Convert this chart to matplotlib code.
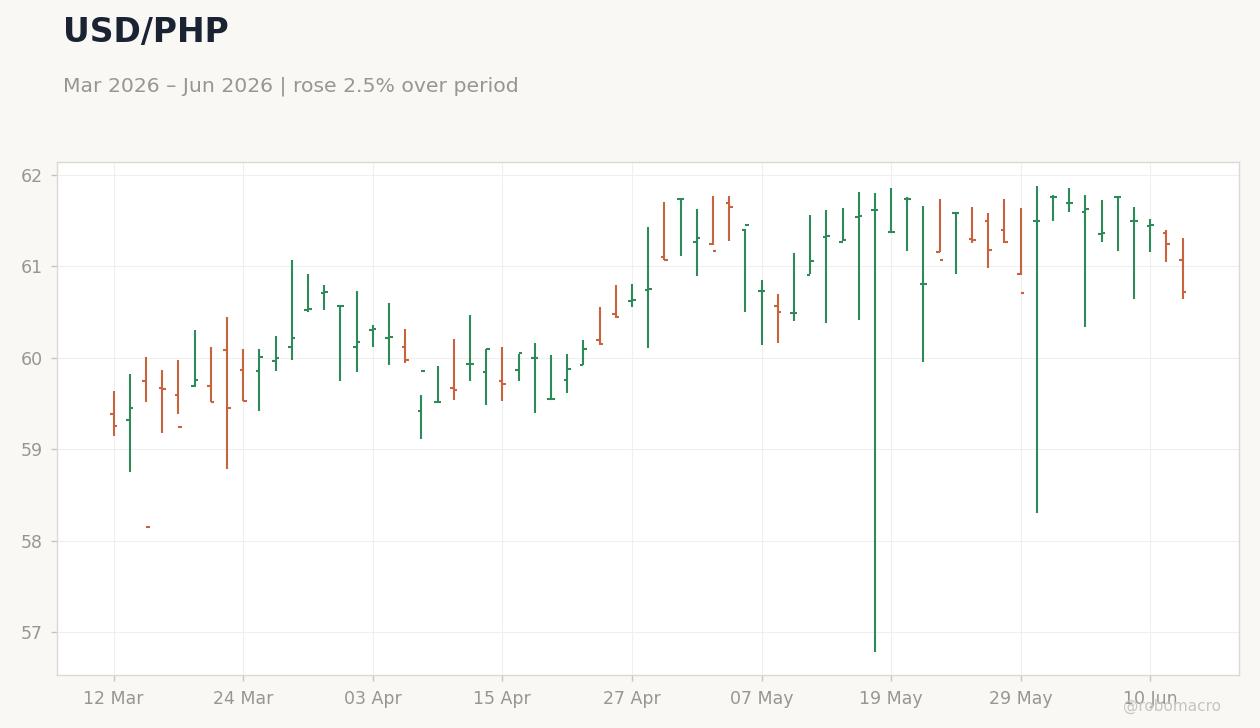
import matplotlib
matplotlib.use("Agg")

import matplotlib.pyplot as plt
import pandas as pd
import numpy as np

# Daily USD/PHP bars (business days from 12 Mar 2026)
start_date = "2026-03-12"
opens = [59.38, 59.32, 59.74, 59.67, 59.59, 59.69, 59.69, 60.08, 59.86, 59.85,
         59.96, 60.12, 60.52, 60.71, 60.57, 60.12, 60.30, 60.22, 60.12, 59.42,
         59.52, 59.67, 59.93, 59.84, 59.75, 59.86, 60.00, 59.55, 59.76, 59.925,
         60.19, 60.48, 60.62, 60.74, 61.10, 61.74, 61.26, 61.24, 61.69, 61.40,
         60.73, 60.56, 60.49, 60.905, 61.32, 61.27, 61.54, 61.62, 61.37, 61.73,
         60.81, 61.16, 61.58, 61.30, 61.49, 61.40, 60.91, 61.49, 61.76, 61.69,
         61.59, 61.35, 61.76, 61.50, 61.44, 61.36, 61.07]
highs = [59.64, 59.82, 60.01, 59.86, 59.98, 60.30, 60.12, 60.44, 60.10, 60.10,
         60.24, 61.07, 60.92, 60.79, 60.57, 60.73, 60.36, 60.60, 60.31, 59.59,
         59.91, 60.20, 60.47, 60.10, 60.12, 60.04, 60.16, 60.03, 60.04, 60.19,
         60.55, 60.79, 60.81, 61.43, 61.70, 61.75, 61.63, 61.77, 61.77, 61.41,
         60.85, 60.70, 61.14, 61.56, 61.62, 61.64, 61.81, 61.80, 61.85, 61.76,
         61.66, 61.74, 61.58, 61.65, 61.58, 61.74, 61.64, 61.88, 61.78, 61.86,
         61.78, 61.72, 61.76, 61.65, 61.52, 61.40, 61.31]
lows = [59.14, 58.75, 59.51, 59.18, 59.38, 59.68, 59.52, 58.78, 59.53, 59.42,
        59.85, 59.97, 60.50, 60.52, 59.74, 59.84, 60.12, 59.92, 59.94, 59.11,
        59.50, 59.54, 59.74, 59.48, 59.53, 59.75, 59.40, 59.55, 59.61, 59.92,
        60.14, 60.43, 60.55, 60.11, 61.07, 61.11, 60.89, 61.23, 61.28, 60.50,
        60.14, 60.16, 60.40, 60.91, 60.38, 61.28, 60.41, 56.78, 61.37, 61.17,
        59.95, 61.16, 60.92, 61.25, 60.98, 61.25, 60.90, 58.30, 61.50, 61.59,
        60.34, 61.26, 61.17, 60.64, 61.16, 61.05, 60.64]
closes = [59.25, 59.45, 58.15, 59.66, 59.24, 59.76, 59.52, 59.45, 59.53, 60.01,
          60.00, 60.21, 60.53, 60.72, 60.57, 60.17, 60.31, 60.23, 59.98, 59.85,
          59.52, 59.65, 59.93, 60.10, 59.71, 60.05, 60.00, 59.55, 59.88, 60.10,
          60.15, 60.45, 60.63, 60.75, 61.07, 61.74, 61.31, 61.17, 61.65, 61.45,
          60.73, 60.50, 60.49, 61.06, 61.33, 61.29, 61.55, 61.62, 61.37, 61.74,
          60.81, 61.07, 61.58, 61.29, 61.18, 61.27, 60.71, 61.49, 61.76, 61.69,
          61.63, 61.36, 61.76, 61.50, 61.45, 61.24, 60.72]
y_ticks = [57, 58, 59, 60, 61, 62]

dates = pd.bdate_range(start_date, periods=len(opens))
x = np.arange(len(opens))

up_color = "#2e8b57"
down_color = "#c8623f"
colors = [up_color if c >= o else down_color for o, c in zip(opens, closes)]

fig = plt.figure(figsize=(12.6, 7.28), dpi=100, facecolor="#f9f8f5")
ax = fig.add_axes([0.0452, 0.0728, 0.9384, 0.7047])
ax.set_facecolor("white")

lw = 1.5
tick_len = 0.22
ax.vlines(x, lows, highs, colors=colors, linewidth=lw, zorder=3)
ax.hlines(opens, x - tick_len, x, colors=colors, linewidth=lw, zorder=3)
ax.hlines(closes, x, x + tick_len, colors=colors, linewidth=lw, zorder=3)

ax.set_xlim(-3.5, 69.5)
ax.set_ylim(56.53, 62.14)
ax.set_yticks(y_ticks)
ax.set_yticklabels([str(v) for v in y_ticks])

xt = x[::8]
ax.set_xticks(xt)
ax.set_xticklabels([dates[i].strftime("%d %b") for i in xt])

ax.grid(True, color="#efefef", linewidth=0.8, zorder=0)
ax.set_axisbelow(True)
for s in ax.spines.values():
    s.set_color("#ddd8d0")
    s.set_linewidth(1.0)
ax.tick_params(axis="both", colors="#c8c4bf", labelcolor="#9a9590",
               labelsize=12.5, length=4, width=1)
ax.tick_params(axis="x", pad=7)
ax.tick_params(axis="y", pad=6)

fig.text(0.05, 1 - 42 / 728, "USD/PHP", fontsize=23.8, fontweight="bold",
         color="#1b2333", va="baseline", ha="left")
fig.text(0.05, 1 - 92 / 728, "Mar 2026 \u2013 Jun 2026 | rose 2.5% over period",
         fontsize=14.65, color="#9a9590", va="baseline", ha="left")
# watermark sits over the last tick label, as in the reference
fig.text(0.969, 1 - 711 / 728, "@robomacro", fontsize=11, color="#c8c4bf",
         va="baseline", ha="right")

fig.savefig("out.png", dpi=100, facecolor=fig.get_facecolor())
plt.close(fig)
